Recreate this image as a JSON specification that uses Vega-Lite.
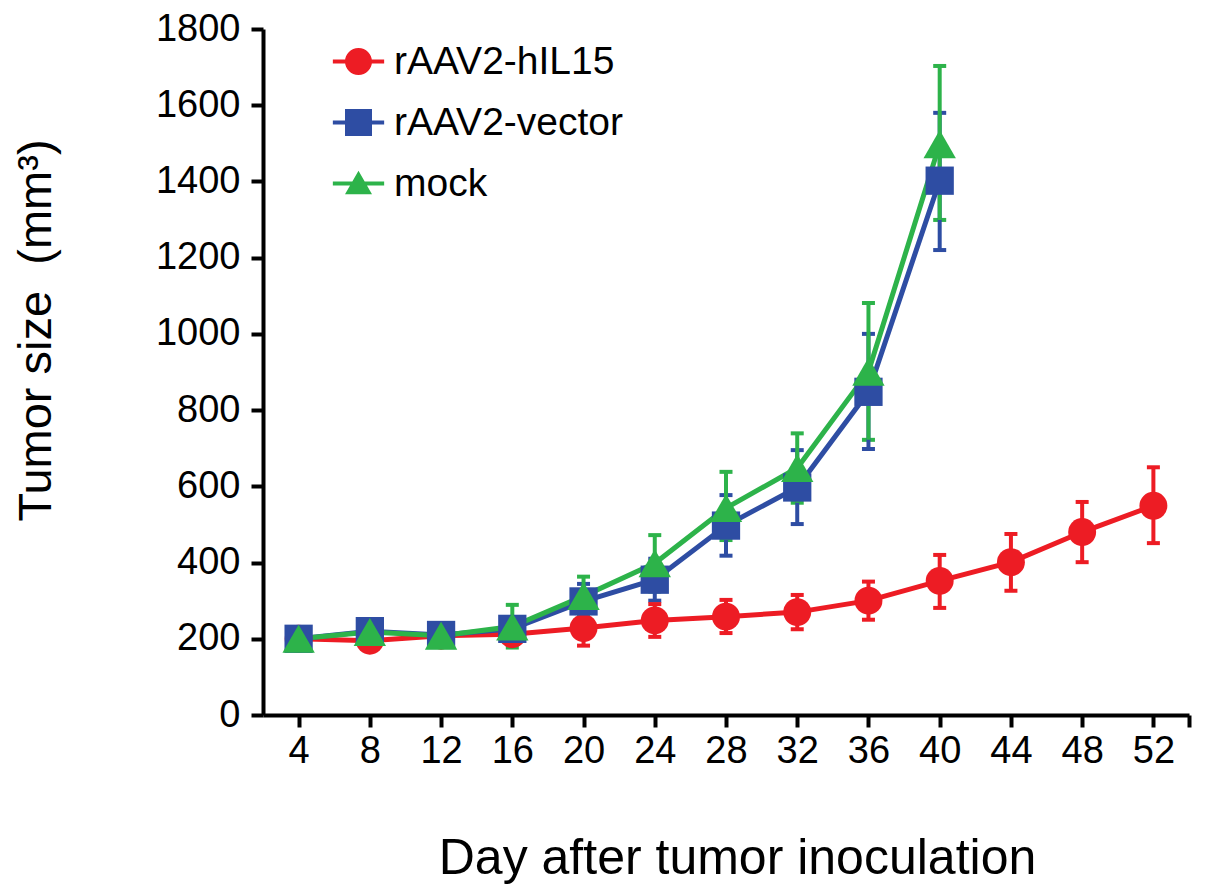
{
  "$schema": "https://vega.github.io/schema/vega-lite/v6.json",
  "width": 926,
  "height": 686,
  "autosize": {"type": "none"},
  "padding": {"left": 263, "top": 29, "right": 16, "bottom": 176},
  "background": "#ffffff",
  "view": {"stroke": null},
  "config": {
    "font": "Liberation Sans",
    "axis": {
      "grid": false,
      "domainColor": "#000000",
      "domainWidth": 4,
      "tickColor": "#000000",
      "tickWidth": 4,
      "tickSize": 12,
      "labelColor": "#000000",
      "labelFont": "Liberation Sans",
      "labelFontSize": 38,
      "titleColor": "#000000",
      "titleFont": "Liberation Sans",
      "titleFontWeight": "normal"
    }
  },
  "data": {
    "values": [
      {"group": "rAAV2-hIL15", "day": 4, "size": 200, "lo": 192, "hi": 208},
      {"group": "rAAV2-hIL15", "day": 8, "size": 195, "lo": 180, "hi": 210},
      {"group": "rAAV2-hIL15", "day": 12, "size": 208, "lo": 196, "hi": 220},
      {"group": "rAAV2-hIL15", "day": 16, "size": 212, "lo": 198, "hi": 226},
      {"group": "rAAV2-hIL15", "day": 20, "size": 228, "lo": 182, "hi": 274},
      {"group": "rAAV2-hIL15", "day": 24, "size": 248, "lo": 205, "hi": 291},
      {"group": "rAAV2-hIL15", "day": 28, "size": 258, "lo": 215, "hi": 302},
      {"group": "rAAV2-hIL15", "day": 32, "size": 270, "lo": 225, "hi": 315},
      {"group": "rAAV2-hIL15", "day": 36, "size": 300, "lo": 250, "hi": 350},
      {"group": "rAAV2-hIL15", "day": 40, "size": 352, "lo": 281, "hi": 420},
      {"group": "rAAV2-hIL15", "day": 44, "size": 401, "lo": 326, "hi": 475},
      {"group": "rAAV2-hIL15", "day": 48, "size": 480, "lo": 401, "hi": 559},
      {"group": "rAAV2-hIL15", "day": 52, "size": 549, "lo": 451, "hi": 650},
      {"group": "rAAV2-vector", "day": 4, "size": 200, "lo": 192, "hi": 208},
      {"group": "rAAV2-vector", "day": 8, "size": 220, "lo": 205, "hi": 235},
      {"group": "rAAV2-vector", "day": 12, "size": 210, "lo": 196, "hi": 224},
      {"group": "rAAV2-vector", "day": 16, "size": 226, "lo": 196, "hi": 256},
      {"group": "rAAV2-vector", "day": 20, "size": 298, "lo": 252, "hi": 344},
      {"group": "rAAV2-vector", "day": 24, "size": 355, "lo": 300, "hi": 410},
      {"group": "rAAV2-vector", "day": 28, "size": 497, "lo": 418, "hi": 577},
      {"group": "rAAV2-vector", "day": 32, "size": 597, "lo": 501, "hi": 695},
      {"group": "rAAV2-vector", "day": 36, "size": 848, "lo": 698, "hi": 1000},
      {"group": "rAAV2-vector", "day": 40, "size": 1402, "lo": 1220, "hi": 1580},
      {"group": "mock", "day": 4, "size": 200, "lo": 192, "hi": 208},
      {"group": "mock", "day": 8, "size": 218, "lo": 205, "hi": 231},
      {"group": "mock", "day": 12, "size": 208, "lo": 195, "hi": 221},
      {"group": "mock", "day": 16, "size": 232, "lo": 177, "hi": 289},
      {"group": "mock", "day": 20, "size": 312, "lo": 262, "hi": 363},
      {"group": "mock", "day": 24, "size": 398, "lo": 324, "hi": 472},
      {"group": "mock", "day": 28, "size": 543, "lo": 459, "hi": 638},
      {"group": "mock", "day": 32, "size": 648, "lo": 557, "hi": 739},
      {"group": "mock", "day": 36, "size": 901, "lo": 722, "hi": 1081},
      {"group": "mock", "day": 40, "size": 1498, "lo": 1299, "hi": 1703}
    ]
  },
  "encoding": {
    "x": {
      "field": "day",
      "type": "quantitative",
      "scale": {"domain": [2, 54], "nice": false, "zero": false},
      "axis": {
        "values": [4, 8, 12, 16, 20, 24, 28, 32, 36, 40, 44, 48, 52, 54],
        "labelExpr": "datum.value > 52 ? '' : datum.label",
        "labelPadding": 5,
        "title": "Day after tumor inoculation",
        "titleFontSize": 50,
        "titleX": 474,
        "titleY": 158,
        "titleBaseline": "alphabetic",
        "titleAlign": "center"
      }
    },
    "y": {
      "field": "size",
      "type": "quantitative",
      "title": "Tumor size\u00a0\u00a0(mm³)",
      "scale": {"domain": [0, 1800], "nice": false},
      "axis": {
        "values": [0, 200, 400, 600, 800, 1000, 1200, 1400, 1600, 1800],
        "format": "d",
        "labelPadding": 11,
        "titleFontSize": 47,
        "titleAngle": 270,
        "titleX": -213,
        "titleY": 301,
        "titleBaseline": "alphabetic",
        "titleAlign": "center"
      }
    },
    "color": {
      "field": "group",
      "type": "nominal",
      "scale": {
        "domain": ["rAAV2-hIL15", "rAAV2-vector", "mock"],
        "range": ["#ED1C24", "#2E4DA3", "#2DB34A"]
      },
      "legend": {
        "title": null,
        "orient": "none",
        "legendX": 76,
        "legendY": 13,
        "padding": 0,
        "symbolSize": 729,
        "symbolOpacity": 1,
        "labelFontSize": 39,
        "labelColor": "#000000",
        "labelFont": "Liberation Sans",
        "labelOffset": 16,
        "rowPadding": 21,
        "labelLimit": 400,
        "encode": {
          "symbols": {
            "update": {
              "shape": {"signal": "datum.value === 'rAAV2-hIL15' ? 'M-1.9,-0.15H-0.95V0.15H-1.9Z M0.95,-0.15H1.9V0.15H0.95Z M1,0A1,1 0 1,1 -1,0A1,1 0 1,1 1,0Z' : datum.value === 'rAAV2-vector' ? 'M-1.9,-0.15H-1V0.15H-1.9Z M1,-0.15H1.9V0.15H1Z M-1,-1H1V1H-1Z' : 'M-1.9,-0.15H1.9V0.15H-1.9Z M0,-0.95L1,0.8H-1Z'"},
              "fill": {"scale": "color", "field": "value"},
              "fillOpacity": {"value": 1},
              "opacity": {"value": 1},
              "strokeWidth": {"value": 0}
            }
          }
        }
      }
    }
  },
  "layer": [
    {
      "mark": {
        "type": "errorbar",
        "ticks": {"size": 13, "thickness": 4, "opacity": 1},
        "rule": {"strokeWidth": 4, "opacity": 1}
      },
      "encoding": {
        "y": {"field": "lo", "type": "quantitative", "title": "Tumor size\u00a0\u00a0(mm³)"},
        "y2": {"field": "hi"}
      }
    },
    {
      "mark": {"type": "line", "strokeWidth": 5}
    },
    {
      "transform": [{"filter": "datum.group === 'rAAV2-hIL15'"}],
      "mark": {"type": "point", "shape": "circle", "filled": true, "opacity": 1, "size": 780}
    },
    {
      "transform": [{"filter": "datum.group === 'rAAV2-vector'"}],
      "mark": {"type": "point", "shape": "square", "filled": true, "opacity": 1, "size": 800}
    },
    {
      "transform": [{"filter": "datum.group === 'mock'"}],
      "mark": {"type": "point", "shape": "triangle-up", "filled": true, "opacity": 1, "size": 1050}
    }
  ]
}
